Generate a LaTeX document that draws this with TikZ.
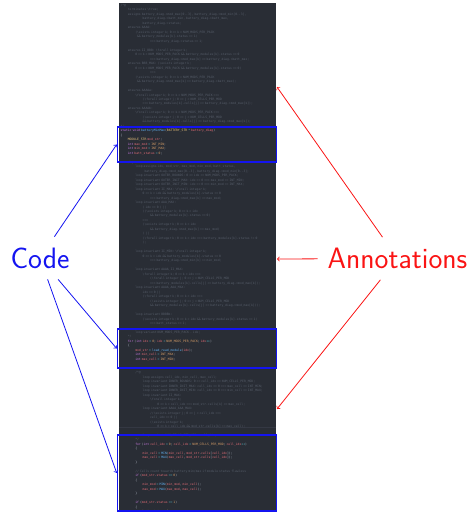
\documentclass[tikz,border=0pt]{standalone}
\usepackage{fontspec}
\newfontfamily\codefont{DejaVu Sans Mono}

% editor colour scheme
\definecolor{cBg}{HTML}{292D35}
\definecolor{cSep}{HTML}{343843}
\definecolor{cAnn}{HTML}{555C68}
\definecolor{cKw}{HTML}{C678DD}
\definecolor{cFn}{HTML}{61AFEF}
\definecolor{cTy}{HTML}{E5C07B}
\definecolor{cVr}{HTML}{E06C75}
\definecolor{cNum}{HTML}{D19A66}
\definecolor{cOp}{HTML}{56B6C2}
\definecolor{cPl}{HTML}{ABB2BF}
% callout colours
\definecolor{cBlue}{RGB}{20,20,240}
\definecolor{cRed}{RGB}{250,20,20}

% token helpers for the C source
\newcommand\Bs{\textbackslash}
\newcommand\Kw[1]{\textcolor{cKw}{#1}}
\newcommand\Fn[1]{\textcolor{cFn}{#1}}
\newcommand\Ty[1]{\textcolor{cTy}{#1}}
\newcommand\Vr[1]{\textcolor{cVr}{#1}}
\newcommand\Nm[1]{\textcolor{cNum}{#1}}
\newcommand\Op[1]{\textcolor{cOp}{#1}}
\newcommand\Pl[1]{\textcolor{cPl}{#1}}
\newcommand\Ind[1]{\hspace*{#1\fontcharwd\font`0}}

\tikzset{
  listing/.style={anchor=north west, inner sep=0pt, outer sep=0pt, align=left,
    text width=430pt, text=cAnn,
    font=\codefont\fontsize{3.07}{4.48}\selectfont\frenchspacing},
  codebox/.style={draw=cBlue, line width=1.6pt, minimum width=159pt, inner sep=0pt},
  tagtext/.style={font=\sffamily\fontsize{29.5}{35}\selectfont, outer sep=0pt,
    inner ysep=11pt},
  codearrow/.style={draw=cBlue, line width=0.8pt, ->},
  annarrow/.style={draw=cRed, line width=0.8pt, ->},
}

\begin{document}
\begin{tikzpicture}[x=1pt,y=-1pt]
\useasboundingbox (0,0) rectangle (474,512);

% editor panel
\fill[cBg] (119,2.5) rectangle (275.5,512);
\draw[cSep, line width=0.7pt] (119,427.6) -- (275.5,427.6);

\begin{scope}
\clip (119,2.5) rectangle (275.5,512);
\node[listing] (src) at (120.5,3.3) {%
\strut/*@\\
\Ind{4}terminates \Bs true;\\
\Ind{4}assigns battery\_diag->mod\_max[0..3], battery\_diag->mod\_min[0..3],\\
\Ind{12}battery\_diag->batt\_min, battery\_diag->batt\_max,\\
\Ind{12}battery\_diag->status;\\
\Ind{4}ensures AAAA:\\
\Ind{8}(\Bs exists integer k; 0 <= k < NUM\_MODS\_PER\_PACK\\
\Ind{9}\&\& battery\_modules[k].status == 1)\\
\Ind{16}==> battery\_diag->status == 1;\\
\strut\\
\Ind{4}ensures II\_BBB: \Bs forall integer k;\\
\Ind{8}0 <= k < NUM\_MODS\_PER\_PACK \&\& battery\_modules[k].status == 0\\
\Ind{16}==> battery\_diag->mod\_max[k] <= battery\_diag->batt\_max;\\
\Ind{4}ensures BBB\_MAX: (\Bs exists integer k;\\
\Ind{8}0 <= k < NUM\_MODS\_PER\_PACK \&\& battery\_modules[k].status == 0)\\
\Ind{16}==>\\
\Ind{8}(\Bs exists integer k; 0 <= k < NUM\_MODS\_PER\_PACK\\
\Ind{9}\&\& battery\_diag->mod\_max[k] == battery\_diag->batt\_max);\\
\strut\\
\Ind{4}ensures AAAAa:\\
\Ind{8}\Bs forall integer k; 0 <= k < NUM\_MODS\_PER\_PACK ==>\\
\Ind{12}(\Bs forall integer j; 0 <= j < NUM\_CELLS\_PER\_MOD\\
\Ind{12}==> battery\_modules[k].cells[j] <= battery\_diag->mod\_max[k]);\\
\Ind{4}ensures AAAAb:\\
\Ind{8}\Bs forall integer k; 0 <= k < NUM\_MODS\_PER\_PACK ==>\\
\Ind{12}(\Bs exists integer j; 0 <= j < NUM\_CELLS\_PER\_MOD\\
\Ind{12}\&\& battery\_modules[k].cells[j] == battery\_diag->mod\_max[k]);\\
{}*/\\
\Kw{static} \Kw{void} \Fn{batteryMinMax}\Pl{(}\Ty{BATTERY\_STR} \Op{*} \Vr{battery\_diag}\Pl{)}\\
\Pl{\{}\\
\Ind{4}\Ty{MODULE\_STR} \Vr{mod\_str}\Pl{;}\\
\Ind{4}\Kw{int} \Vr{max\_mod} \Op{=} \Nm{INT\_MIN}\Pl{;}\\
\Ind{4}\Kw{int} \Vr{min\_mod} \Op{=} \Nm{INT\_MAX}\Pl{;}\\
\Ind{4}\Kw{int} \Vr{batt\_status} \Op{=} \Nm{0}\Pl{;}\\
\strut\\
\Ind{4}/*@\\
\Ind{8}loop assigns idx, mod\_str, max\_mod, min\_mod, batt\_status,\\
\Ind{13}battery\_diag->mod\_max[0..3], battery\_diag->mod\_min[0..3];\\
\Ind{8}loop invariant OUTER\_BOUNDS: 0 <= idx <= NUM\_MODS\_PER\_PACK;\\
\Ind{8}loop invariant OUTER\_INIT\_MAX: idx == 0 ==> max\_mod == INT\_MIN;\\
\Ind{8}loop invariant OUTER\_INIT\_MIN: idx == 0 ==> min\_mod == INT\_MAX;\\
\Ind{8}loop invariant II\_MAX: \Bs forall integer k;\\
\Ind{12}0 <= k < idx \&\& battery\_modules[k].status == 0\\
\Ind{16}==> battery\_diag->mod\_max[k] <= max\_mod;\\
\Ind{8}loop invariant AAA\_MAX:\\
\Ind{12}( idx == 0 ) ||\\
\Ind{12}((\Bs exists integer k; 0 <= k < idx\\
\Ind{16}\&\& battery\_modules[k].status == 0)\\
\Ind{12}==>\\
\Ind{12}(\Bs exists integer k; 0 <= k < idx\\
\Ind{16}\&\& battery\_diag->mod\_max[k] == max\_mod)\\
\Ind{12}) ||\\
\Ind{12}(\Bs forall integer k; 0 <= k < idx ==> battery\_modules[k].status != 0\\
\Ind{12});\\
\strut\\
\Ind{8}loop invariant II\_MIN: \Bs forall integer k;\\
\Ind{12}0 <= k < idx \&\& battery\_modules[k].status == 0\\
\Ind{16}==> battery\_diag->mod\_min[k] >= min\_mod;\\
\strut\\
\Ind{8}loop invariant AAAA\_II\_MAX:\\
\Ind{12}\Bs forall integer k; 0 <= k < idx ==>\\
\Ind{16}(\Bs forall integer j; 0 <= j < NUM\_CELLS\_PER\_MOD\\
\Ind{16}==> battery\_modules[k].cells[j] <= battery\_diag->mod\_max[k]);\\
\Ind{8}loop invariant AAAA\_AAA\_MAX:\\
\Ind{12}idx == 0 ||\\
\Ind{12}(\Bs forall integer k; 0 <= k < idx ==>\\
\Ind{16}(\Bs exists integer j; 0 <= j < NUM\_CELLS\_PER\_MOD\\
\Ind{16}\&\& battery\_modules[k].cells[j] == battery\_diag->mod\_max[k]));\\
\strut\\
\Ind{8}loop invariant BBBBb:\\
\Ind{12}(\Bs exists integer k; 0 <= k < idx \&\& battery\_modules[k].status == 1)\\
\Ind{16}==> batt\_status == 1;\\
\strut\\
\Ind{8}loop variant NUM\_MODS\_PER\_PACK - idx;\\
\Ind{4}*/\\
\Ind{4}\Kw{for} \Pl{(}\Kw{int} \Vr{idx} \Op{=} \Nm{0}\Pl{;} \Vr{idx} \Op{<} \Nm{NUM\_MODS\_PER\_PACK}\Pl{;} \Vr{idx}\Op{++}\Pl{)}\\
\Ind{4}\Pl{\{}\\
\Ind{8}\Vr{mod\_str} \Op{=} \Fn{load\_read\_module}\Pl{(}\Vr{idx}\Pl{);}\\
\Ind{8}\Kw{int} \Vr{min\_cell} \Op{=} \Nm{INT\_MAX}\Pl{;}\\
\Ind{8}\Kw{int} \Vr{max\_cell} \Op{=} \Nm{INT\_MIN}\Pl{;}\\
\strut\\
\strut\\
\Ind{8}/*@\\
\Ind{12}loop assigns cell\_idx, min\_cell, max\_cell;\\
\Ind{12}loop invariant INNER\_BOUNDS: 0 <= cell\_idx <= NUM\_CELLS\_PER\_MOD;\\
\Ind{12}loop invariant INNER\_INIT\_MAX: cell\_idx == 0 ==> max\_cell == INT\_MIN;\\
\Ind{12}loop invariant INNER\_INIT\_MIN: cell\_idx == 0 ==> min\_cell == INT\_MAX;\\
\Ind{12}loop invariant II\_MAX:\\
\Ind{16}\Bs forall integer k;\\
\Ind{20}0 <= k < cell\_idx ==> mod\_str.cells[k] <= max\_cell;\\
\Ind{12}loop invariant AAAA\_AAA\_MAX:\\
\Ind{16}//\Bs exists integer j; 0 <= j < cell\_idx ==>\\
\Ind{16}cell\_idx == 0 ||\\
\Ind{16}(\Bs exists integer k;\\
\Ind{20}0 <= k < cell\_idx \&\& mod\_str.cells[k] == max\_cell);\\
\strut\\
\Ind{12}loop variant NUM\_CELLS\_PER\_MOD - cell\_idx;\\
\Ind{8}*/\\
\Ind{8}\Kw{for} \Pl{(}\Kw{int} \Vr{cell\_idx} \Op{=} \Nm{0}\Pl{;} \Vr{cell\_idx} \Op{<} \Nm{NUM\_CELLS\_PER\_MOD}\Pl{;} \Vr{cell\_idx}\Op{++}\Pl{)}\\
\Ind{8}\Pl{\{}\\
\Ind{12}\Vr{min\_cell} \Op{=} \Fn{MIN}\Pl{(}\Vr{min\_cell}\Pl{,} \Vr{mod\_str}\Pl{.}\Vr{cells}\Pl{[}\Vr{cell\_idx}\Pl{]);}\\
\Ind{12}\Vr{max\_cell} \Op{=} \Fn{MAX}\Pl{(}\Vr{max\_cell}\Pl{,} \Vr{mod\_str}\Pl{.}\Vr{cells}\Pl{[}\Vr{cell\_idx}\Pl{]);}\\
\Ind{8}\Pl{\}}\\
\strut\\
\Ind{8}// Cells count towards battery min/max if module status flawless\\
\Ind{8}\Kw{if} \Pl{(}\Vr{mod\_str}\Pl{.}\Vr{status} \Op{==} \Nm{0}\Pl{)}\\
\Ind{8}\Pl{\{}\\
\Ind{12}\Vr{min\_mod} \Op{=} \Fn{MIN}\Pl{(}\Vr{min\_mod}\Pl{,} \Vr{min\_cell}\Pl{);}\\
\Ind{12}\Vr{max\_mod} \Op{=} \Fn{MAX}\Pl{(}\Vr{max\_mod}\Pl{,} \Vr{max\_cell}\Pl{);}\\
\Ind{8}\Pl{\}}\\
\strut\\
\Ind{8}\Kw{if} \Pl{(}\Vr{mod\_str}\Pl{.}\Vr{status} \Op{==} \Nm{1}\Pl{)}\\
\Ind{8}\Pl{\{}\\
\Ind{12}\Vr{batt\_status} \Op{=} \Nm{1}\Pl{;}%
};
\end{scope}

% highlighted code regions
\node[codebox, minimum height=35pt] (box1) at (197,144.5) {};
\node[codebox, minimum height=39pt] (box2) at (197,348.5) {};
\node[codebox, minimum height=76pt] (box3) at (197,473) {};

% annotation targets on the panel edge
\coordinate (ann1) at (277,87);
\coordinate (ann2) at (277,259);
\coordinate (ann3) at (277,409);

% side labels
\node[tagtext, text=cBlue, inner xsep=2pt] (code) at (40,258) {Code};
\node[tagtext, text=cRed, inner xsep=10pt] (annot) at (397.5,258.5) {Annotations};

\draw[codearrow] (code) -- (box1.west);
\draw[codearrow] (code) -- (box2.west);
\draw[codearrow] (code) -- (box3.west);
\draw[annarrow] (annot) -- (ann1);
\draw[annarrow] (annot) -- (ann2);
\draw[annarrow] (annot) -- (ann3);
\end{tikzpicture}
\end{document}
